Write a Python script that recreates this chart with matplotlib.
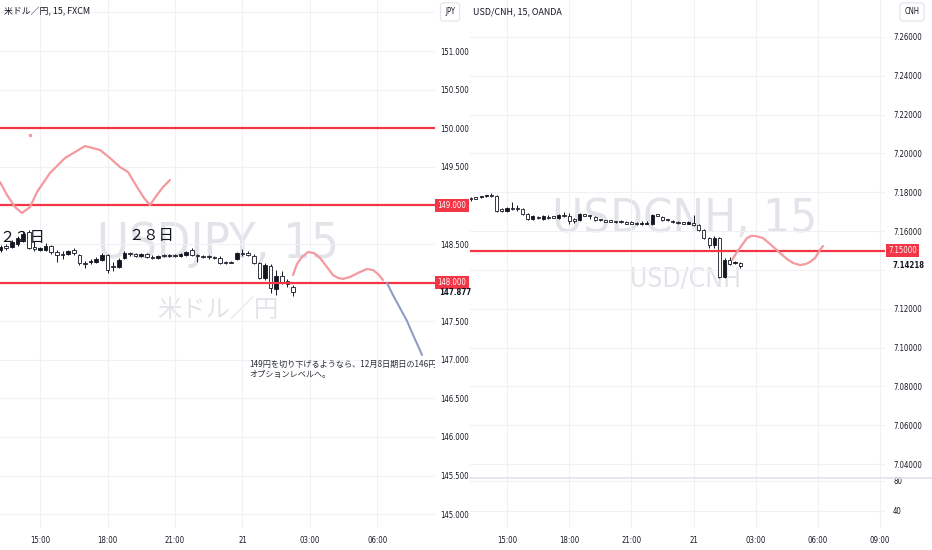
import numpy as np
import matplotlib.pyplot as plt
from matplotlib.transforms import blended_transform_factory
from matplotlib.lines import Line2D

plt.rcParams['font.family'] = ['DejaVu Sans']
plt.rcParams['font.stretch'] = 'condensed'
JP = ['Noto Sans CJK JP', 'DejaVu Sans']

# 15 minute bars, hours counted from 20 Nov 00:00
bar_hours = 13.0 + 0.25 * np.arange(54)

jpy_open = [148.396, 148.422, 148.474, 148.461, 148.500, 148.552, 148.655, 148.461, 148.422, 148.422,
            148.474, 148.396, 148.370, 148.370, 148.422, 148.357, 148.254, 148.267, 148.267, 148.292,
            148.357, 148.215, 148.202, 148.318, 148.383, 148.370, 148.344, 148.370, 148.331, 148.318,
            148.357, 148.344, 148.357, 148.344, 148.357, 148.422, 148.357, 148.344, 148.344, 148.331,
            148.318, 148.267, 148.267, 148.305, 148.383, 148.383, 148.344, 148.254, 148.059, 148.215,
            147.917, 148.085, 148.021, 147.943]
jpy_close = [148.435, 148.461, 148.448, 148.526, 148.577, 148.629, 148.448, 148.435, 148.448, 148.474,
             148.396, 148.357, 148.357, 148.409, 148.383, 148.254, 148.241, 148.280, 148.305, 148.357,
             148.163, 148.202, 148.292, 148.383, 148.370, 148.344, 148.370, 148.331, 148.318, 148.344,
             148.344, 148.357, 148.344, 148.370, 148.396, 148.357, 148.344, 148.331, 148.331, 148.318,
             148.254, 148.254, 148.254, 148.383, 148.370, 148.357, 148.254, 148.059, 148.228, 147.930,
             148.085, 148.008, 147.982, 147.877]
jpy_high = [148.474, 148.487, 148.500, 148.552, 148.603, 148.668, 148.681, 148.539, 148.461, 148.513,
            148.487, 148.422, 148.409, 148.422, 148.448, 148.370, 148.280, 148.305, 148.331, 148.383,
            148.370, 148.267, 148.318, 148.409, 148.396, 148.383, 148.383, 148.383, 148.357, 148.357,
            148.370, 148.370, 148.370, 148.383, 148.409, 148.448, 148.370, 148.357, 148.357, 148.344,
            148.344, 148.280, 148.280, 148.396, 148.435, 148.409, 148.370, 148.267, 148.254, 148.241,
            148.163, 148.150, 148.046, 147.969]
jpy_low = [148.344, 148.396, 148.422, 148.448, 148.474, 148.526, 148.435, 148.409, 148.409, 148.409,
           148.370, 148.267, 148.305, 148.357, 148.357, 148.228, 148.189, 148.241, 148.254, 148.280,
           148.124, 148.150, 148.189, 148.305, 148.344, 148.331, 148.331, 148.318, 148.305, 148.305,
           148.331, 148.331, 148.331, 148.331, 148.344, 148.344, 148.267, 148.318, 148.305, 148.305,
           148.241, 148.241, 148.254, 148.292, 148.344, 148.344, 148.241, 148.046, 148.034, 147.865,
           147.839, 147.982, 147.943, 147.826]

cnh_open = [7.17654, 7.17654, 7.17705, 7.17731, 7.17783, 7.17808, 7.17808, 7.17138, 7.17035, 7.17164,
            7.17138, 7.17138, 7.16881, 7.16623, 7.16675, 7.16623, 7.16675, 7.16726, 7.16675, 7.16778,
            7.16778, 7.16623, 7.16572, 7.16829, 7.16778, 7.16726, 7.16572, 7.16520, 7.16520, 7.16469,
            7.16469, 7.16417, 7.16417, 7.16366, 7.16366, 7.16366, 7.16366, 7.16829, 7.16726, 7.16572,
            7.16520, 7.16469, 7.16417, 7.16366, 7.16417, 7.16314, 7.16057, 7.15645, 7.15284, 7.15645,
            7.13635, 7.14511, 7.14356, 7.14356]
cnh_close = [7.17654, 7.17628, 7.17679, 7.17783, 7.17808, 7.17793, 7.17035, 7.17035, 7.17190, 7.17138,
             7.17113, 7.16881, 7.16623, 7.16778, 7.16649, 7.16778, 7.16649, 7.16700, 7.16829, 7.16752,
             7.16520, 7.16520, 7.16881, 7.16803, 7.16752, 7.16572, 7.16546, 7.16494, 7.16494, 7.16443,
             7.16443, 7.16391, 7.16391, 7.16340, 7.16391, 7.16417, 7.16829, 7.16803, 7.16572, 7.16546,
             7.16469, 7.16417, 7.16391, 7.16469, 7.16314, 7.16057, 7.15645, 7.15284, 7.15645, 7.13635,
             7.14511, 7.14305, 7.14408, 7.14218]
cnh_high = [7.17705, 7.17757, 7.17757, 7.17808, 7.17860, 7.17963, 7.17860, 7.17190, 7.17242, 7.17499,
            7.17345, 7.17190, 7.16932, 7.16829, 7.16778, 7.16829, 7.16829, 7.16778, 7.16881, 7.16984,
            7.16932, 7.16675, 7.16932, 7.16881, 7.16829, 7.16778, 7.16623, 7.16572, 7.16572, 7.16520,
            7.16572, 7.16520, 7.16520, 7.16469, 7.16520, 7.16520, 7.16881, 7.16881, 7.16778, 7.16623,
            7.16572, 7.16520, 7.16469, 7.16520, 7.16829, 7.16366, 7.16108, 7.15696, 7.15748, 7.15696,
            7.14614, 7.14666, 7.14459, 7.14408]
cnh_low = [7.17602, 7.17551, 7.17654, 7.17705, 7.17757, 7.17757, 7.16984, 7.16984, 7.16984, 7.17087,
           7.17035, 7.16829, 7.16572, 7.16572, 7.16623, 7.16572, 7.16623, 7.16675, 7.16623, 7.16726,
           7.16366, 7.16417, 7.16520, 7.16778, 7.16623, 7.16520, 7.16520, 7.16469, 7.16469, 7.16417,
           7.16417, 7.16366, 7.16366, 7.16314, 7.16314, 7.16340, 7.16314, 7.16778, 7.16520, 7.16520,
           7.16417, 7.16366, 7.16366, 7.16340, 7.16263, 7.16005, 7.15593, 7.15129, 7.15129, 7.13584,
           7.13584, 7.14253, 7.14305, 7.14099]

jpy_levels = [150.0, 149.0, 148.0]
cnh_level = 7.15

# hand drawn paths (hour, price)
jpy_path1_h = [13.222, 13.533, 13.889, 14.2, 14.556, 14.867, 15.444, 16.111, 17.0, 17.667,
               18.111, 18.556, 18.911, 19.311, 19.622, 19.889, 20.2, 20.467, 20.778]
jpy_path1_p = [149.303, 149.135, 148.979, 148.902, 148.979, 149.174, 149.420, 149.614, 149.769, 149.718,
               149.614, 149.497, 149.433, 149.238, 149.096, 149.005, 149.135, 149.238, 149.329]
jpy_path2_h = [26.244, 26.422, 26.644, 26.911, 27.178, 27.444, 27.756, 28.022, 28.244, 28.467,
               28.778, 29.222, 29.533, 29.8, 30.022, 30.244]
jpy_path2_p = [148.098, 148.241, 148.332, 148.396, 148.383, 148.319, 148.202, 148.098, 148.060, 148.047,
               148.073, 148.137, 148.176, 148.163, 148.111, 148.034]
jpy_down_h = [30.422, 30.689, 31.0, 31.311, 31.622, 31.844, 31.978]
jpy_down_p = [147.995, 147.839, 147.671, 147.503, 147.295, 147.153, 147.062]
cnh_path_h = [25.854, 26.095, 26.336, 26.578, 26.771, 26.963, 27.156, 27.349, 27.687, 28.169,
              28.507, 28.796, 29.134, 29.424, 29.617, 29.858, 30.099, 30.244]
cnh_path_p = [7.1451, 7.1492, 7.1528, 7.1564, 7.1575, 7.1575, 7.1570, 7.1564, 7.1534, 7.1487,
              7.1456, 7.1436, 7.1425, 7.1431, 7.1441, 7.1461, 7.1503, 7.1523]

time_ticks = [15, 18, 21, 24, 27, 30, 33]
time_labels = ['15:00', '18:00', '21:00', '21', '03:00', '06:00', '09:00']

INK = '#131722'
GRID = '#f0f1f4'
RED = '#f23645'
PINK = '#f49a9e'
BLUE = '#8e9dc6'
WM = '#e2e4e9'

W, H = 932, 550


def box(x0, y0, x1, y1):
    return [x0 / W, 1 - y1 / H, (x1 - x0) / W, (y1 - y0) / H]


def candles(ax, t, o, h, l, c, width, min_h):
    for ti, oi, hi, li, ci in zip(t, o, h, l, c):
        ax.vlines(ti, li, hi, color=INK, lw=0.7, zorder=3)
        up = ci > oi
        ax.bar(ti, max(abs(ci - oi), min_h), width, bottom=min(oi, ci),
               color=INK if up else 'white', edgecolor=INK, lw=0.6, zorder=4)


def style(ax, pad_y):
    for s in ax.spines.values():
        s.set_visible(False)
    ax.patch.set_visible(False)
    ax.yaxis.tick_right()
    ax.tick_params(length=0, labelsize=5.6, labelcolor=INK, pad=pad_y)
    ax.tick_params(axis='x', pad=6)
    ax.grid(color=GRID, lw=0.8)
    ax.set_axisbelow(True)


fig = plt.figure(figsize=(9.32, 5.5), dpi=100)

# ---- left: USDJPY
ax1 = fig.add_axes(box(0, 0, 435, 528))
ax1.set_xlim(13.222, 32.556)
ax1.set_ylim(144.821, 151.661)
style(ax1, 3.6)
yt = np.arange(145.0, 151.51, 0.5)
ax1.set_yticks(yt)
ax1.set_yticklabels(['' if v in (148.0, 149.0, 151.5) else '%.3f' % v for v in yt])
ax1.set_xticks(time_ticks[:-1])
ax1.set_xticklabels(time_labels[:-1])

tr1 = blended_transform_factory(ax1.transAxes, ax1.transData)
ax1.text(0.5, 148.319, 'USDJPY, 15', transform=tr1, ha='center', va='baseline',
         fontsize=35, color=WM, zorder=0)
ax1.text(0.5, 147.554, '米ドル／円', transform=tr1, ha='center', va='baseline',
         fontsize=17.5, color=WM, family=JP, zorder=0)

for lv in jpy_levels:
    ax1.axhline(lv, color=RED, lw=1.6, zorder=5)
candles(ax1, bar_hours, jpy_open, jpy_high, jpy_low, jpy_close, 0.16, 0.015)

ax1.plot(jpy_path1_h, jpy_path1_p, color=PINK, lw=1.6, zorder=6, solid_capstyle='round')
ax1.plot(jpy_path2_h, jpy_path2_p, color=PINK, lw=1.6, zorder=6, solid_capstyle='round')
ax1.plot(jpy_down_h, jpy_down_p, color=BLUE, lw=1.5, zorder=6, solid_capstyle='round')
ax1.plot([14.556], [149.912], 'o', ms=1.5, color=PINK)

ax1.text(13.2, 148.578, '２２日', fontsize=11, color=INK, family=JP, va='center', zorder=5)
ax1.text(18.93, 148.604, '２８日', fontsize=11, color=INK, family=JP, va='center', zorder=5)
ax1.text(24.289, 146.997, '149円を切り下げるようなら、12月8日期日の146円\nオプションレベルへ。',
         fontsize=5.9, color='#2a2e39', family=JP, va='top', ha='left',
         linespacing=1.1, clip_on=True, zorder=6)

for lv in jpy_levels[1:]:
    ax1.text(1.006, lv, '%.3f' % lv, transform=tr1, ha='left', va='center', fontsize=5.6,
             color='white', clip_on=False,
             bbox=dict(boxstyle='square,pad=0.3', fc=RED, ec='none'))
ax1.text(1.01, 147.877, '147.877', transform=tr1, ha='left', va='center', fontsize=5.6,
         color=INK, fontweight='bold', clip_on=False)

# ---- right: USDCNH
ax2 = fig.add_axes(box(470, 0, 885, 477))
ax2.set_xlim(13.215, 33.235)
ax2.set_ylim(7.03331, 7.27906)
style(ax2, 5.8)
yt2 = np.round(np.arange(7.04, 7.2601, 0.02), 2)
ax2.set_yticks(yt2)
ax2.set_yticklabels(['' if abs(v - 7.14) < 1e-6 else '%.5f' % v for v in yt2])
ax2.set_xticks(time_ticks)
ax2.tick_params(labelbottom=False)

tr2 = blended_transform_factory(ax2.transAxes, ax2.transData)
ax2.text(0.518, 7.15954, 'USDCNH, 15', transform=tr2, ha='center', va='baseline',
         fontsize=34, color=WM, zorder=0)
ax2.text(0.52, 7.1312, 'USD/CNH', transform=tr2, ha='center', va='baseline',
         fontsize=19, color=WM, zorder=0)

ax2.axhline(cnh_level, color=RED, lw=1.6, zorder=5)
candles(ax2, bar_hours, cnh_open, cnh_high, cnh_low, cnh_close, 0.15, 0.0006)
ax2.plot(cnh_path_h, cnh_path_p, color=PINK, lw=1.6, zorder=6, solid_capstyle='round')

ax2.text(1.007, cnh_level, '%.5f' % cnh_level, transform=tr2, ha='left', va='center',
         fontsize=5.6, color='white', clip_on=False,
         bbox=dict(boxstyle='square,pad=0.3', fc=RED, ec='none'))
ax2.text(1.019, 7.14218, '7.14218', transform=tr2, ha='left', va='center', fontsize=5.6,
         color=INK, fontweight='bold', clip_on=False)

# ---- right lower pane
ax3 = fig.add_axes(box(470, 478, 885, 528))
ax3.set_xlim(13.215, 33.235)
ax3.set_ylim(17.33, 84)
style(ax3, 5.8)
ax3.set_yticks([80, 40])
ax3.set_yticklabels(['80', '40'])
ax3.set_xticks(time_ticks)
ax3.set_xticklabels(time_labels)
fig.add_artist(Line2D([470 / W, 1], [1 - 477.5 / H] * 2, color='#e0e3eb', lw=1.2))

# ---- headers
fig.text(4 / W, 1 - 12 / H, '米ドル／円, 15, FXCM', fontsize=6.4, color=INK, family=JP, va='center')
fig.text(473 / W, 1 - 12 / H, 'USD/CNH, 15, OANDA', fontsize=6.4, color=INK, family=JP, va='center')
for x, cur in [(450, 'JPY'), (912, 'CNH')]:
    fig.text(x / W, 1 - 12 / H, cur, fontsize=5.5, color=INK, ha='center', va='center',
             bbox=dict(boxstyle='round,pad=0.6,rounding_size=0.4', fc='white', ec='#e0e3eb', lw=0.8))

fig.savefig('out.png', dpi=100)
